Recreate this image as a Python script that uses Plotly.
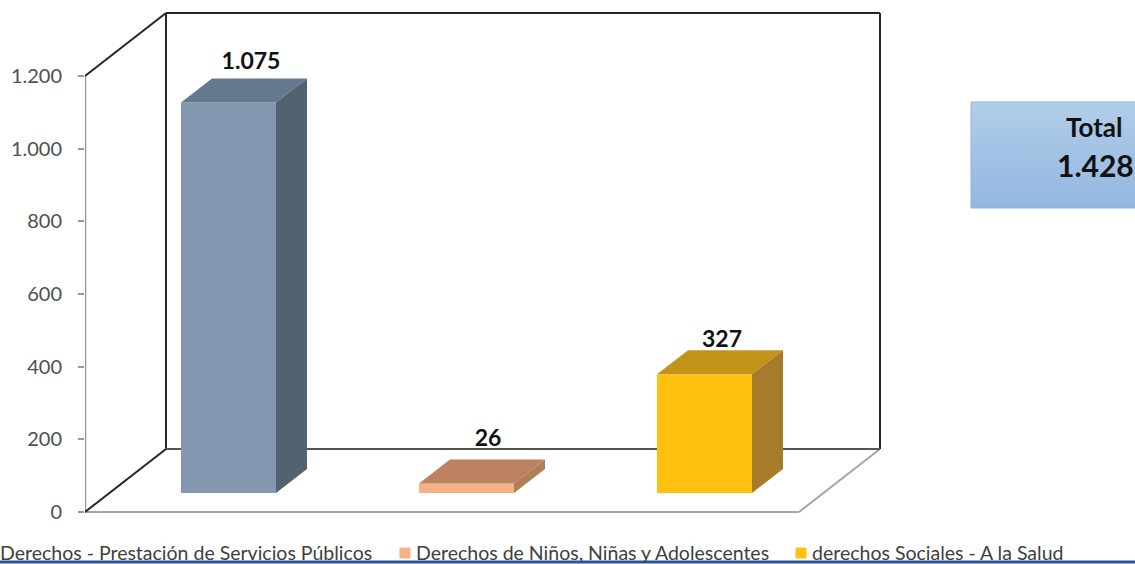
import plotly.graph_objects as go

# --- data ---
categories = ["Derechos - Prestación de Servicios Públicos",
              "Derechos de Niños, Niñas y Adolescentes",
              "derechos Sociales - A la Salud"]
values = [1075, 26, 327]
value_labels = ["1.075", "26", "327"]
tick_values = [0, 200, 400, 600, 800, 1000, 1200]
tick_labels = ["0", "200", "400", "600", "800", "1.000", "1.200"]
total_title = "Total"
total_value = "1.428"

# --- style ---
front_colors = ["#8497B0", "#F4B183", "#FFC00F"]
top_colors = ["#64788E", "#BC8260", "#C4941A"]
side_colors = ["#53626F", "#AE7F58", "#A67C2A"]

W, H = 1135, 564
LEFT = 85
PX_PER_UNIT = 436 / 1200
Y0_PX = 512
y_lo = (Y0_PX - H) / PX_PER_UNIT
y_hi = Y0_PX / PX_PER_UNIT

def u(px):
    return px / PX_PER_UNIT

bar_centers = [143.5 + 238 * i for i in range(len(values))]
BAR_W = 95
BAR_BASE = u(19)
BAR_DX, BAR_DY = 31, u(24)
WALL_DX, WALL_DY = 81, u(63)
FLOOR_W = 714
YMAX = tick_values[-1]
label_dx = [22.5, 21.5, 17.5]
label_dy = [u(39), u(43), u(33)]

fig = go.Figure()

# front faces
fig.add_trace(go.Bar(x=bar_centers, y=values, base=[BAR_BASE] * 3, width=BAR_W,
                     marker=dict(color=front_colors, line_width=0), showlegend=False,
                     hoverinfo="skip"))

# top and side faces
for c, v, tc, sc in zip(bar_centers, values, top_colors, side_colors):
    xl, xr = c - BAR_W / 2, c + BAR_W / 2
    bot, top = BAR_BASE, BAR_BASE + v
    fig.add_trace(go.Scatter(x=[xl, xr, xr + BAR_DX, xl + BAR_DX, xl],
                             y=[top, top, top + BAR_DY, top + BAR_DY, top],
                             fill="toself", fillcolor=tc, mode="none", showlegend=False,
                             hoverinfo="skip"))
    fig.add_trace(go.Scatter(x=[xr, xr + BAR_DX, xr + BAR_DX, xr, xr],
                             y=[bot, bot + BAR_DY, top + BAR_DY, top, bot],
                             fill="toself", fillcolor=sc, mode="none", showlegend=False,
                             hoverinfo="skip"))

# value labels
fig.add_trace(go.Scatter(
    x=[c + d for c, d in zip(bar_centers, label_dx)],
    y=[BAR_BASE + v + d for v, d in zip(values, label_dy)],
    mode="text", text=value_labels, textposition="middle center",
    textfont=dict(family="Lato", size=23, color="#111111", weight="bold"),
    showlegend=False, hoverinfo="skip"))

# frame (below the traces)
def seg(x0, y0, x1, y1, color, width=2):
    return dict(type="line", xref="x", yref="y", x0=x0, y0=y0, x1=x1, y1=y1,
                layer="below", line=dict(color=color, width=width))

DARK = "#262626"
GREY = "#A6A6A6"
shapes = [
    seg(0, 0, 0, YMAX, "#999999", 2.5),
    seg(0, 0, FLOOR_W, 0, GREY, 2),
    seg(FLOOR_W, 0, FLOOR_W + WALL_DX, WALL_DY, GREY, 2),
    seg(0, 0, WALL_DX, WALL_DY, DARK),
    seg(0, YMAX, WALL_DX, YMAX + WALL_DY, DARK),
    seg(WALL_DX, WALL_DY, WALL_DX, YMAX + WALL_DY, DARK),
    seg(WALL_DX, YMAX + WALL_DY, FLOOR_W + WALL_DX, YMAX + WALL_DY, DARK),
    seg(FLOOR_W + WALL_DX, WALL_DY, FLOOR_W + WALL_DX, YMAX + WALL_DY, DARK),
    seg(WALL_DX, WALL_DY, FLOOR_W + WALL_DX, WALL_DY, "#555555"),
    # blue rule at the foot of the page
    dict(type="line", xref="paper", yref="paper", x0=-LEFT / (W - LEFT), x1=1,
         y0=1 - 562 / H, y1=1 - 562 / H, layer="above",
         line=dict(color="#2F5597", width=3)),
]

# total box
bx0, bx1 = 971 - LEFT, W - LEFT + 2
by0, by1 = u(Y0_PX - 208), u(Y0_PX - 102)
fig.add_trace(go.Scatter(
    x=[bx0, bx1, bx1, bx0, bx0], y=[by0, by0, by1, by1, by0],
    fill="toself", mode="lines", line=dict(color="#8DB4D9", width=1),
    fillgradient=dict(type="vertical",
                      colorscale=[[0, "#93B7E0"], [1, "#B2CDE9"]]),
    showlegend=False, hoverinfo="skip"))

annotations = [
    dict(xref="x", yref="y", x=1093.5 - LEFT, y=u(Y0_PX - 127), text=f"<b>{total_title}</b>",
         showarrow=False, font=dict(family="Lato", size=26, color="#111111")),
    dict(xref="x", yref="y", x=1095 - LEFT, y=u(Y0_PX - 165), text=f"<b>{total_value}</b>",
         showarrow=False, font=dict(family="Lato", size=30, color="#111111")),
]

# legend row
legend_text_x = [-2, 414, 810]
legend_marker_x = [-11, 405, 801]
for name, tx in zip(categories, legend_text_x):
    annotations.append(dict(xref="paper", yref="paper", x=(tx - LEFT) / (W - LEFT),
                            y=1 - 552 / H, xanchor="left", yanchor="middle", text=name,
                            showarrow=False, font=dict(family="Lato", size=19.5, color="#404040")))
fig.add_trace(go.Scatter(
    x=[m - LEFT for m in legend_marker_x], y=[u(Y0_PX - 553)] * 3, mode="markers",
    marker=dict(symbol="square", size=11, color=front_colors), cliponaxis=False,
    showlegend=False, hoverinfo="skip"))

fig.update_layout(
    width=W, height=H, margin=dict(l=LEFT, r=0, t=0, b=0, autoexpand=False),
    paper_bgcolor="white", plot_bgcolor="white", showlegend=False,
    shapes=shapes, annotations=annotations,
    xaxis=dict(range=[0, W - LEFT], visible=False, fixedrange=True),
    yaxis=dict(range=[y_lo, y_hi], tickvals=tick_values, ticktext=tick_labels,
               showgrid=False, zeroline=False, showline=False, ticks="outside", ticklen=6,
               tickcolor="#999999", tickwidth=1.5, ticklabelstandoff=12,
               tickfont=dict(family="Lato", size=20, color="#505050"), fixedrange=True),
)

fig.write_html("out.html", config={"displayModeBar": False},
               post_script="document.body.style.margin='0';document.body.style.overflow='hidden';")
